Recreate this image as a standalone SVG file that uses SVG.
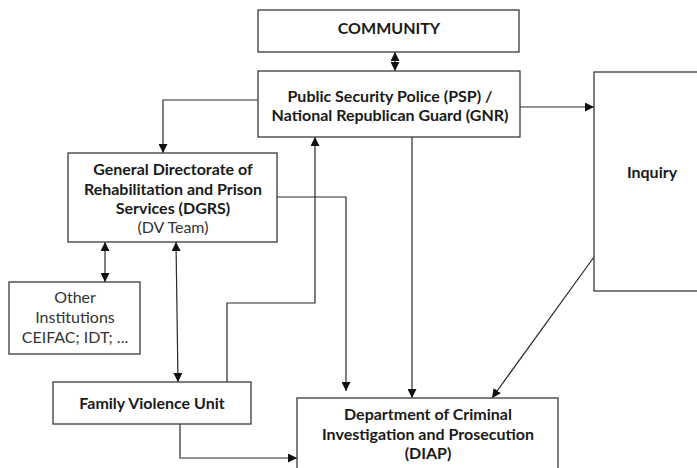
<svg xmlns="http://www.w3.org/2000/svg" width="697" height="468" viewBox="0 0 697 468">
<style>
.box{fill:#fff;stroke:#3a3a3a;stroke-width:1.3}
.t{font-family:Lato,"Noto Sans",sans-serif;font-size:16px;font-weight:bold;fill:#1a1a1a;text-anchor:middle}
.n{font-family:Lato,"Noto Sans",sans-serif;font-size:16px;fill:#333;text-anchor:middle}
.c{fill:none;stroke:#2a2a2a;stroke-width:1.2}
</style>
<defs>
<marker id="ah" viewBox="0 0 10 10" refX="10" refY="5" markerWidth="9" markerHeight="9" markerUnits="userSpaceOnUse" orient="auto-start-reverse">
<path d="M0,0 L10,5 L0,10 z" fill="#111"/>
</marker>
</defs>
<rect width="697" height="468" fill="#fff"/>
<g id="connectors">
<line class="c" x1="395" y1="52" x2="395" y2="71" marker-start="url(#ah)" marker-end="url(#ah)"/>
<polyline class="c" points="258,100 163,100 163,153" marker-end="url(#ah)"/>
<line class="c" x1="520" y1="107" x2="594" y2="107" marker-end="url(#ah)"/>
<polyline class="c" points="227,382 227,303 315,303 315,137" marker-end="url(#ah)"/>
<polyline class="c" points="277,197 346,197 346,391" marker-end="url(#ah)"/>
<line class="c" x1="412" y1="137" x2="412" y2="398" marker-end="url(#ah)"/>
<line class="c" x1="594" y1="257" x2="492" y2="398" marker-end="url(#ah)"/>
<polyline class="c" points="180,424 180,458 297,458" marker-end="url(#ah)"/>
<line class="c" x1="105" y1="242" x2="105" y2="282" marker-start="url(#ah)" marker-end="url(#ah)"/>
<line class="c" x1="176" y1="242" x2="178" y2="382" marker-start="url(#ah)" marker-end="url(#ah)"/>
</g>
<g id="community">
<rect class="box" x="258" y="10" width="261" height="42"/>
<text class="t" x="389" y="34">COMMUNITY</text>
</g>
<g id="psp">
<rect class="box" x="258" y="71" width="262" height="66"/>
<text class="t" x="390" y="102">Public Security Police (PSP) /</text>
<text class="t" x="390" y="121">National Republican Guard (GNR)</text>
</g>
<g id="dgrs">
<rect class="box" x="68" y="153" width="209" height="89"/>
<text class="t" x="173" y="175">General Directorate of</text>
<text class="t" x="173" y="195">Rehabilitation and Prison</text>
<text class="t" x="173" y="214">Services (DGRS)</text>
<text class="n" x="173" y="233">(DV Team)</text>
</g>
<g id="inquiry">
<rect class="box" x="594" y="72" width="110" height="219"/>
<text class="t" x="652" y="178">Inquiry</text>
</g>
<g id="other">
<rect class="box" x="9" y="282" width="131" height="72"/>
<text class="n" x="75" y="303">Other</text>
<text class="n" x="75" y="323">Institutions</text>
<text class="n" x="75" y="343">CEIFAC; IDT; ...</text>
</g>
<g id="fvu">
<rect class="box" x="53" y="382" width="198" height="42"/>
<text class="t" x="152" y="409">Family Violence Unit</text>
</g>
<g id="diap">
<rect class="box" x="297" y="398" width="261" height="80"/>
<text class="t" x="428" y="420">Department of Criminal</text>
<text class="t" x="428" y="440">Investigation and Prosecution</text>
<text class="t" x="428" y="459">(DIAP)</text>
</g>
</svg>
